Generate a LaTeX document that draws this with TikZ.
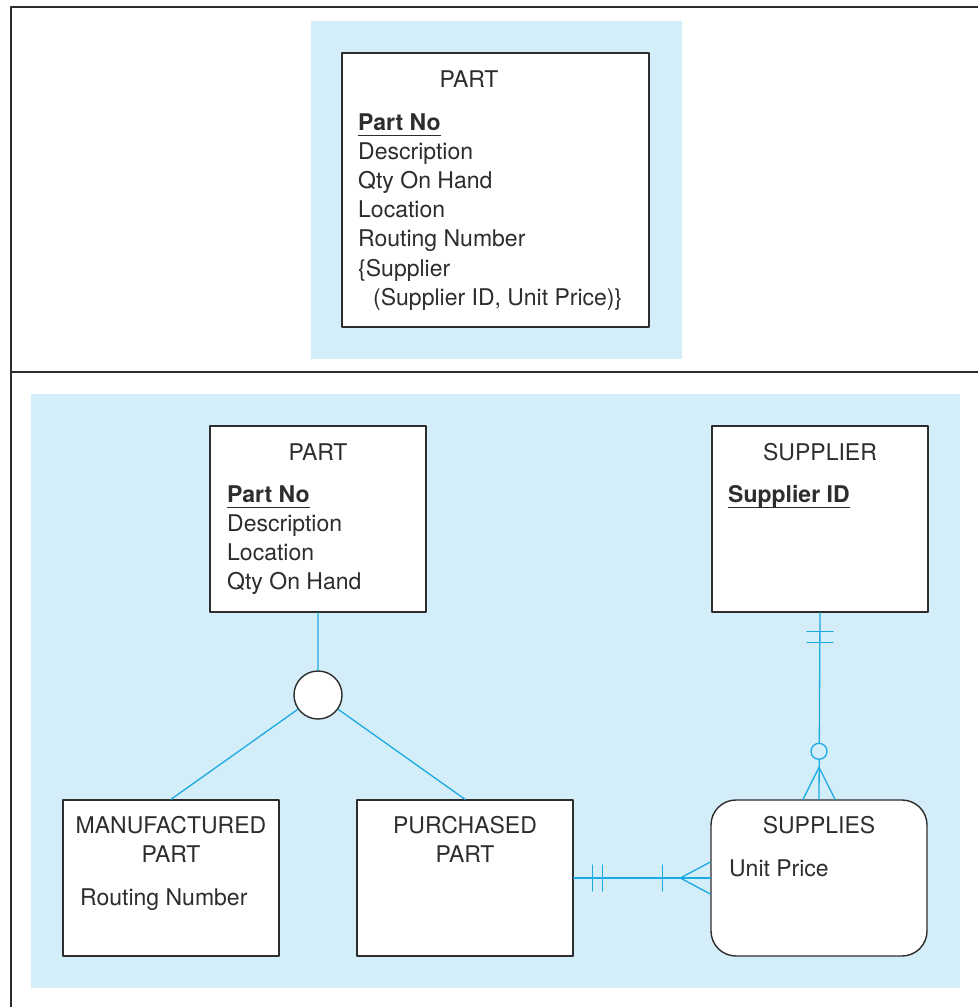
\documentclass[tikz,border=0pt]{standalone}
\usepackage{fontspec}
\setmainfont{TeX Gyre Heros}
\usetikzlibrary{positioning}
\definecolor{panel}{RGB}{211,237,249}
\definecolor{rel}{RGB}{28,170,226}
\definecolor{ink}{RGB}{45,45,45}
\newcommand\pkey[1]{\setbox0\hbox{\textbf{#1}}\rlap{\rule[-6pt]{\wd0}{1.4pt}}\box0}
\begin{document}
\begin{tikzpicture}[x=1pt, y=-1pt, line join=round, line cap=round]
	\tikzset{ent/.style={draw=ink, line width=1.4pt, fill=white, inner sep=0pt},
		txt/.style={anchor=base, inner sep=0pt, text=ink, font=\fontsize{23}{28}\selectfont},
		att/.style={txt, anchor=base west},
		rl/.style={draw=rel, line width=1.3pt}
	}
	\useasboundingbox (0,0) rectangle (978,1007);
	\fill[panel] (311,21) rectangle (682,359);
	\fill[panel] (31,394) rectangle (960,988);
	\draw[ink, line width=2.5pt, line cap=butt] (978,7) -- (11,7) -- (11,1007) (11,372) -- (978,372);
	\node[ent, minimum width=307pt, minimum height=274pt] (part0) at (495.5,190) {};
	\node[txt] (part0t) at (469,87) {PART};
	\foreach \attr [count=\i from 0] in {{\pkey{Part No}}, Description, Qty On Hand, Location, Routing Number, {\{Supplier}, {\hspace{15pt}(Supplier ID, Unit Price)\}}}
		\node[att] (part0a\i) at (358,{130+29.2*\i}) {\attr};
	\node[ent, minimum width=216pt, minimum height=186pt] (part) at (318,519) {};
	\node[ent, minimum width=216pt, minimum height=186pt] (supplier) at (820,519) {};
	\node[ent, minimum width=216pt, minimum height=156pt] (mfg) at (171,878) {};
	\node[ent, minimum width=216pt, minimum height=156pt] (purch) at (465,878) {};
	\node[ent, rounded corners=25pt, minimum width=216pt, minimum height=156pt] (supplies) at (819,878) {};
	\node[ent, circle, minimum size=48pt] (isa) at (318,695) {};
	\node[txt] (partt) at (318,460) {PART};
	\foreach \attr [count=\i from 0] in {{\pkey{Part No}}, Description, Location, Qty On Hand}
		\node[att] (parta\i) at (227,{502+29.2*\i}) {\attr};
	\node[txt] (suppliert) at (820,460) {SUPPLIER};
	\node[att] (suppliera) at (728,502) {\pkey{Supplier ID}};
	\node[txt] (mfgt1) at (171,833) {MANUFACTURED};
	\node[txt] (mfgt2) at (171,862) {PART};
	\node[att] (mfga) at (80,905) {Routing Number};
	\node[txt] (purcht1) at (465,833) {PURCHASED};
	\node[txt] (purcht2) at (465,862) {PART};
	\node[txt] (suppliest) at (819,833) {SUPPLIES};
	\node[att] (suppliesa) at (729,876) {Unit Price};
	\draw[rl] (part.south) -- (isa) (isa) -- (mfg.north) (isa) -- (purch.north);
	\draw[rl] (supplier.south) -- (supplies.north);
	\foreach \d in {19,30} \draw[rl] ([xshift=-13pt,yshift=-\d pt]supplier.south) -- ++(26,0);
	\draw[rl, fill=panel] ([yshift=48pt]supplies.north) circle (8pt);
	\draw[rl] ([xshift=-16pt]supplies.north) -- ([yshift=32pt]supplies.north) -- ([xshift=16pt]supplies.north);
	\draw[rl] (purch.east) -- (supplies.west);
	\foreach \d in {19,29} \draw[rl] ([xshift=\d pt,yshift=-13pt]purch.east) -- ++(0,-26);
	\draw[rl] ([xshift=-48pt,yshift=-13pt]supplies.west) -- ++(0,-26);
	\draw[rl] ([yshift=16pt]supplies.west) -- ([xshift=-30pt]supplies.west) -- ([yshift=-16pt]supplies.west);
\end{tikzpicture}
\end{document}
